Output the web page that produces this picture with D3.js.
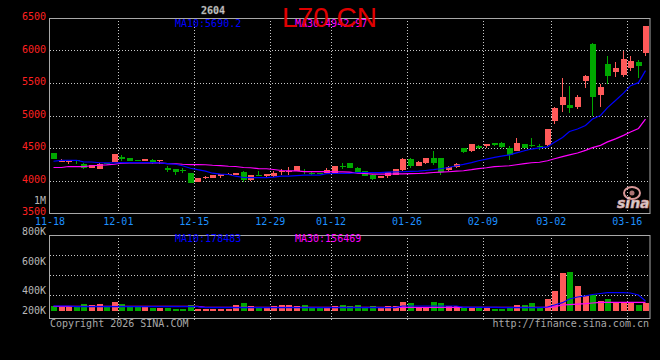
<!DOCTYPE html>
<html><head><meta charset="utf-8">
<script src="https://cdn.jsdelivr.net/npm/d3@7/dist/d3.min.js"></script>
<style>html,body{margin:0;padding:0;background:#000;}svg{display:block;}</style>
</head><body><svg id="c" width="660" height="360"></svg>
<script>
const dates = ["11-18","11-19","11-20","11-21","11-24","11-25","11-26","11-27","11-28",
"12-01","12-02","12-03","12-04","12-05","12-08","12-09","12-10","12-11","12-12",
"12-15","12-16","12-17","12-18","12-19","12-22","12-23","12-24","12-25","12-26",
"12-29","12-30","12-31","01-05","01-06","01-07","01-08","01-09",
"01-12","01-13","01-14","01-15","01-16","01-19","01-20","01-21","01-22","01-23",
"01-26","01-27","01-28","01-29","01-30","02-02","02-03","02-04","02-05","02-06",
"02-09","02-10","02-11","02-12","02-13","02-24","02-25","02-26","02-27",
"03-02","03-03","03-04","03-05","03-06","03-09","03-10","03-11","03-12","03-13",
"03-16","03-17","03-18"];
const open = [4418,4291,4285,4311,4261,4193,4178,4265,4285,4362,
4342,4311,4300,4316,4300,4189,4173,4163,4117,3979,
4031,4040,4071,4095,4086,4132,4005,4085,4071,4066,
4128,4135,4143,4150,4110,4112,4123,4123,4225,4265,
4200,4147,4092,4040,4066,4092,4158,4331,4230,4276,
4346,4342,4158,4209,4495,4454,4536,4530,4571,4571,
4500,4454,4556,4546,4530,4541,4908,5158,5168,5138,
5536,6102,5321,5800,5673,5627,5730,5827,5969];
const high = [4430,4337,4305,4320,4265,4240,4265,4270,4410,4388,
4345,4315,4335,4330,4320,4230,4175,4200,4120,4045,
4070,4085,4105,4110,4120,4143,4085,4140,4105,4150,
4170,4209,4230,4175,4150,4115,4200,4230,4270,4275,
4205,4150,4095,4075,4135,4175,4340,4350,4300,4350,
4460,4345,4230,4270,4500,4565,4540,4560,4575,4590,
4530,4650,4560,4650,4555,4790,5130,5570,5460,5320,
5620,6110,5485,5908,5820,6000,5923,5850,6380];
const low = [4330,4285,4261,4250,4180,4190,4175,4255,4280,4300,
4295,4298,4298,4255,4261,4128,4086,4117,3960,3975,
4028,4035,4040,4085,4080,3975,4000,4070,4050,4060,
4080,4082,4140,4100,4090,4100,4110,4100,4175,4195,
4120,4066,4010,4036,4040,4090,4150,4200,4220,4250,
4235,4085,4140,4200,4430,4440,4480,4500,4535,4500,
4320,4450,4495,4520,4470,4535,4873,5050,5035,5100,
5418,4985,5138,5485,5586,5586,5680,5577,5923];
const close = [4337,4300,4300,4300,4193,4235,4261,4258,4403,4337,
4300,4300,4327,4285,4311,4158,4132,4143,3964,4040,
4051,4082,4102,4100,4117,4005,4082,4075,4100,4117,
4140,4143,4224,4140,4100,4102,4158,4224,4215,4200,
4123,4071,4030,4071,4132,4173,4331,4219,4281,4346,
4270,4132,4209,4261,4438,4556,4506,4556,4541,4521,
4388,4571,4500,4530,4515,4786,5122,5291,5112,5291,
5612,5280,5444,5612,5724,5872,5842,5755,6377];
const ma10 = [4296,4311,4311,4311,4288,4285,4273,4270,4270,4276,
4276,4276,4276,4276,4270,4261,4250,4227,4189,4166,
4143,4112,4097,4092,4066,4046,4043,4043,4043,4051,
4066,4066,4074,4082,4082,4082,4105,4108,4108,4108,
4123,4123,4123,4120,4128,4132,4135,4140,4143,4154,
4166,4181,4200,4227,4247,4276,4304,4330,4357,4376,
4395,4424,4457,4484,4503,4518,4587,4663,4755,4793,
4847,4946,5000,5122,5230,5344,5459,5505,5690.2];
const ma30 = [4200,4200,4215,4215,4215,4227,4235,4239,4250,4265,
4270,4270,4270,4270,4270,4261,4258,4250,4245,4245,
4242,4235,4230,4219,4215,4200,4196,4184,4181,4169,
4154,4147,4147,4138,4138,4138,4138,4132,4132,4128,
4112,4108,4097,4097,4097,4102,4102,4105,4108,4112,
4123,4128,4135,4143,4150,4166,4184,4196,4212,4219,
4227,4242,4261,4273,4281,4304,4334,4368,4395,4423,
4464,4506,4541,4594,4640,4694,4747,4801,4942.97];
const volume = [90,77,77,90,110,97,110,77,130,110,
77,77,77,70,70,70,60,60,100,60,
60,60,60,60,100,120,90,70,77,90,
100,100,90,100,70,70,75,90,100,90,
100,77,90,77,90,90,130,120,77,77,
130,120,90,90,70,77,70,70,60,60,
67,100,100,120,70,160,240,423,433,290,
190,197,140,160,123,123,117,100,117].map(v => v * 1000);
const volMa10 = [90,90,90,83,83,83,83,83,83,83,
83,83,83,83,83,83,83,83,83,83,
73,73,73,73,73,73,73,73,73,73,
73,73,73,73,73,73,73,73,73,73,
73,73,73,73,73,73,90,90,90,90,
90,90,90,90,77,77,77,77,77,73,
73,73,73,73,73,80,100,123,160,180,
192,205,215,223,223,223,220,200,140].map(v => v * 1000);
const volMa30 = [87,87,87,87,87,87,87,87,87,87,
87,87,87,87,87,87,87,87,87,87,
77,77,77,77,77,77,77,77,77,77,
77,77,77,77,77,77,77,77,77,77,
77,77,77,77,77,77,77,77,77,77,
77,77,77,77,77,77,77,77,77,77,
77,77,77,77,77,77,83,100,104,108,
113,120,127,127,127,127,127,127,127].map(v => v * 1000);
const priceTicks = [6500, 6000, 5500, 5000, 4500, 4000, 3500];
const priceGrid = [6000, 5500, 5000, 4500, 4000];
const volTicks = [800000, 600000, 400000, 200000];
const volTickLabels = ["800K", "600K", "400K", "200K"];
const volGrid = [600000, 400000, 200000];
const dateTicks = ["11-18","12-01","12-15","12-29","01-12","01-26","02-09","03-02","03-16"];
const title = "L70 CN";
const code = "2604";
const priceUnitLabel = "1M";
const priceUnitAt = 3700;
const volFloor = 40000;

const svg = d3.select("#c");
const L = 50, R = 650, PT = 18, PB = 213, VT = 235, VB = 318;
const RED = "#ff5a5a", GREEN = "#00a800", GRID = "#c8c8c8", BORDER = "#a8a8a8";
const MONO = "'DejaVu Sans Mono', 'Liberation Mono', monospace";

svg.append("rect").attr("width", 660).attr("height", 360).attr("fill", "#000");

const x = d3.scaleBand().domain(dates).range([L, R]).paddingInner(0).paddingOuter(0);
const yP = d3.scaleLinear().domain([3500, 6500]).range([PB, PT]);
const yV = d3.scaleLinear().domain([0, 800000]).range([315, 235]);
const volLabelY = d3.scaleLinear().domain([200000, 400000, 600000, 800000]).range([310, 290, 261, 231]);
const bw = 6;
const cx = d => Math.round(x(d)) + 3.5;

const g = svg.append("g");
// gridlines
g.selectAll(".hg").data(priceGrid).join("line")
  .attr("x1", L).attr("x2", R).attr("y1", d => Math.round(yP(d)) + 0.5).attr("y2", d => Math.round(yP(d)) + 0.5)
  .attr("stroke", GRID).attr("stroke-dasharray", "1,2");
g.selectAll(".vg").data(volGrid).join("line")
  .attr("x1", L).attr("x2", R).attr("y1", d => Math.round(yV(d)) + 0.5).attr("y2", d => Math.round(yV(d)) + 0.5)
  .attr("stroke", GRID).attr("stroke-dasharray", "1,2");
dateTicks.slice(1).forEach(dt => {
  const xx = Math.round(x(dt)) + 0.5;
  g.append("line").attr("x1", xx).attr("x2", xx).attr("y1", PT).attr("y2", PB).attr("stroke", GRID).attr("stroke-dasharray", "1,2");
  g.append("line").attr("x1", xx).attr("x2", xx).attr("y1", VT).attr("y2", VB + 3).attr("stroke", GRID).attr("stroke-dasharray", "1,2");
});
// borders
g.append("rect").attr("x", L - 0.5).attr("y", PT + 0.5).attr("width", R - L + 0.5).attr("height", PB - PT)
  .attr("fill", "none").attr("stroke", BORDER);
g.append("rect").attr("x", L - 0.5).attr("y", VT + 0.5).attr("width", R - L + 0.5).attr("height", VB - VT)
  .attr("fill", "none").attr("stroke", BORDER);

// watermark
const wm = svg.append("g").attr("opacity", 0.9);
wm.append("ellipse").attr("cx", 632).attr("cy", 193).attr("rx", 8).attr("ry", 6).attr("fill", "none").attr("stroke", "#f0a8a8").attr("stroke-width", 2);
wm.append("circle").attr("cx", 632).attr("cy", 193).attr("r", 2.5).attr("fill", "#c08080");
wm.append("text").attr("x", 617).attr("y", 208).text("sina").attr("font-family", "'DejaVu Sans', sans-serif")
  .attr("font-size", 14).attr("font-weight", "bold").attr("font-style", "italic")
  .attr("fill", "#e8e8e8").attr("stroke", "#f0a8a8").attr("stroke-width", 0.6);

// candles
const idx = d3.range(dates.length);
const isUp = i => close[i] >= open[i];
const cg = svg.append("g").attr("shape-rendering", "crispEdges");
cg.selectAll(".wick").data(idx).join("line")
  .attr("x1", i => cx(dates[i])).attr("x2", i => cx(dates[i]))
  .attr("y1", i => yP(high[i])).attr("y2", i => yP(low[i]))
  .attr("stroke", i => isUp(i) ? RED : GREEN);
cg.selectAll(".body").data(idx).join("rect")
  .attr("x", i => Math.round(x(dates[i])) + 0.5)
  .attr("y", i => yP(Math.max(open[i], close[i])))
  .attr("width", bw)
  .attr("height", i => Math.max(1, Math.abs(yP(open[i]) - yP(close[i]))))
  .attr("fill", i => isUp(i) ? RED : GREEN);

// MA lines
const lineP = arr => d3.line().x((v, i) => cx(dates[i])).y(v => yP(v))(arr);
svg.append("path").attr("d", lineP(ma30)).attr("fill", "none").attr("stroke", "#ff00ff").attr("stroke-width", 1.2);
svg.append("path").attr("d", lineP(ma10)).attr("fill", "none").attr("stroke", "#0000ff").attr("stroke-width", 1.2);

// volume bars
const base = yV(volFloor);
const vg = svg.append("g").attr("shape-rendering", "crispEdges");
vg.selectAll("rect").data(idx).join("rect")
  .attr("x", i => Math.round(x(dates[i])) + 0.5)
  .attr("y", i => yV(volume[i]))
  .attr("width", bw)
  .attr("height", i => Math.max(1, base - yV(volume[i])))
  .attr("fill", i => isUp(i) ? RED : GREEN);
const lineV = arr => d3.line().x((v, i) => cx(dates[i])).y(v => yV(v))(arr);
svg.append("path").attr("d", lineV(volMa30)).attr("fill", "none").attr("stroke", "#ff00ff").attr("stroke-width", 1.2);
svg.append("path").attr("d", lineV(volMa10)).attr("fill", "none").attr("stroke", "#0000ff").attr("stroke-width", 1.2);

// text
const t = svg.append("g").attr("font-family", MONO).attr("font-size", 10);
t.selectAll(".pt").data(priceTicks).join("text")
  .attr("x", 46).attr("y", d => yP(d) + 2).attr("text-anchor", "end").attr("fill", "#ff2020").text(d => d);
t.append("text").attr("x", 46).attr("y", yP(priceUnitAt) + 4).attr("text-anchor", "end").attr("fill", "#b8b8b8").text(priceUnitLabel);
t.selectAll(".vt").data(volTicks).join("text")
  .attr("x", 46).attr("y", d => volLabelY(d) + 3.6).attr("text-anchor", "end").attr("fill", "#b8b8b8")
  .text((d, i) => volTickLabels[i]);
t.selectAll(".dt").data(dateTicks).join("text")
  .attr("x", d => x(d)).attr("y", 224.6).attr("text-anchor", "middle").attr("fill", "#1e90ff").text(d => d);
t.append("text").attr("x", 175).attr("y", 27.3).attr("fill", "#0000ff").text("MA10:" + ma10[ma10.length - 1].toFixed(1));
t.append("text").attr("x", 295).attr("y", 27.3).attr("fill", "#ff00ff").text("MA30:" + ma30[ma30.length - 1].toFixed(2));
t.append("text").attr("x", 175).attr("y", 242.3).attr("fill", "#0000ff").text("MA10:178483");
t.append("text").attr("x", 295).attr("y", 242.3).attr("fill", "#ff00ff").text("MA30:156469");
t.append("text").attr("x", 50).attr("y", 326.6).attr("fill", "#a8a8a8").text("Copyright 2026 SINA.COM");
t.append("text").attr("x", 649).attr("y", 326.6).attr("text-anchor", "end").attr("fill", "#a8a8a8").text("http://finance.sina.com.cn");
t.append("text").attr("x", 201).attr("y", 14).attr("fill", "#d8d8d8").attr("font-weight", "bold")
  .attr("stroke", "#707070").attr("stroke-width", 0.4).text(code);
svg.append("text").attr("x", 282).attr("y", 26.5).attr("font-family", "'Liberation Sans', Arial, sans-serif")
  .attr("font-size", 28).attr("fill", "#e00000").text(title);
</script></body></html>
